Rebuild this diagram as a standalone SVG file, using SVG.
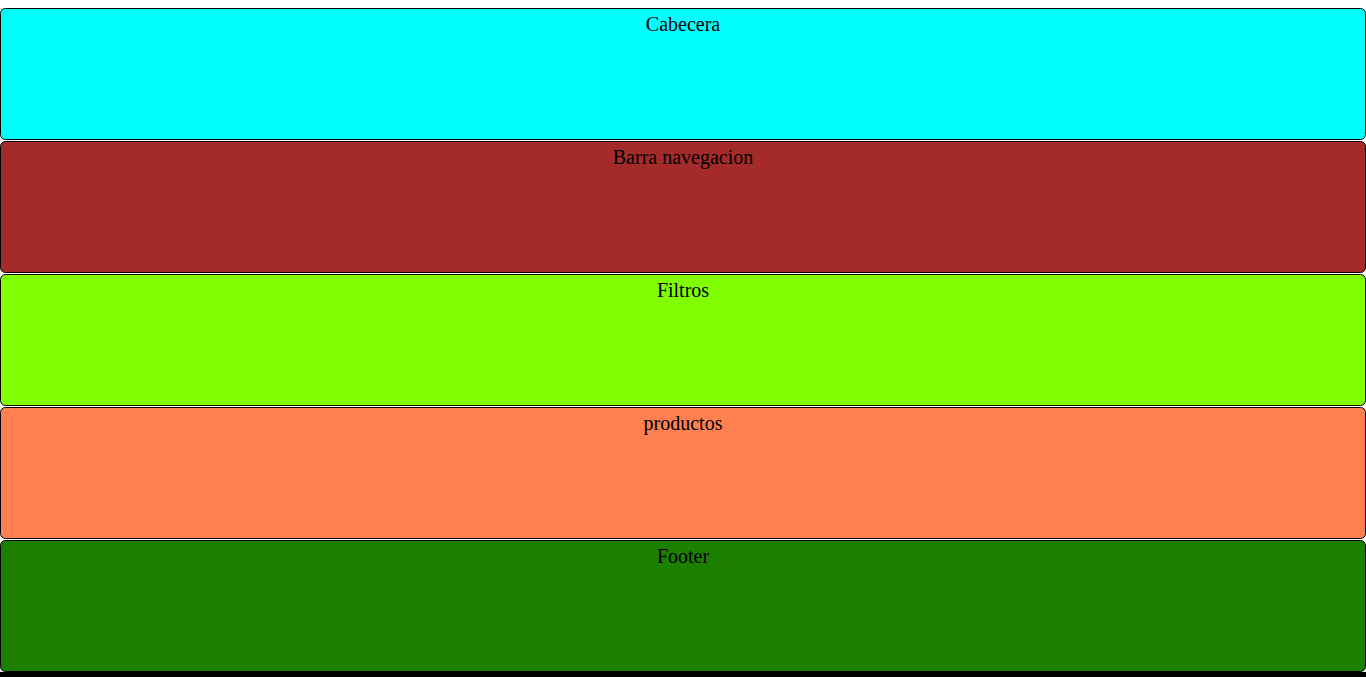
<svg xmlns="http://www.w3.org/2000/svg" width="1366" height="677" viewBox="0 0 1366 677">
<style>
.box{stroke:#000;stroke-width:1}
.lbl{font-family:"Liberation Serif","Times New Roman",serif;font-size:20px;fill:#000;text-anchor:middle}
</style>
<rect x="0" y="0" width="1366" height="677" fill="#fff"/>
<rect x="0" y="672" width="1366" height="5" fill="#000"/>
<g id="cabecera"><rect class="box" x="0.5" y="8.5" width="1365" height="131" rx="5" fill="#00FFFF"/><text class="lbl" x="683" y="31">Cabecera</text></g>
<g id="barra"><rect class="box" x="0.5" y="141.5" width="1365" height="131" rx="5" fill="#A52A2A"/><text class="lbl" x="683" y="164">Barra navegacion</text></g>
<g id="filtros"><rect class="box" x="0.5" y="274.5" width="1365" height="131" rx="5" fill="#7FFF00"/><text class="lbl" x="683" y="297">Filtros</text></g>
<g id="productos"><rect class="box" x="0.5" y="407.5" width="1365" height="131" rx="5" fill="#FF7F50"/><text class="lbl" x="683" y="430">productos</text></g>
<g id="footer"><rect class="box" x="0.5" y="540.5" width="1365" height="131" rx="5" fill="#1B7F00"/><text class="lbl" x="683" y="563">Footer</text></g>
<g id="connectors"></g>
</svg>
